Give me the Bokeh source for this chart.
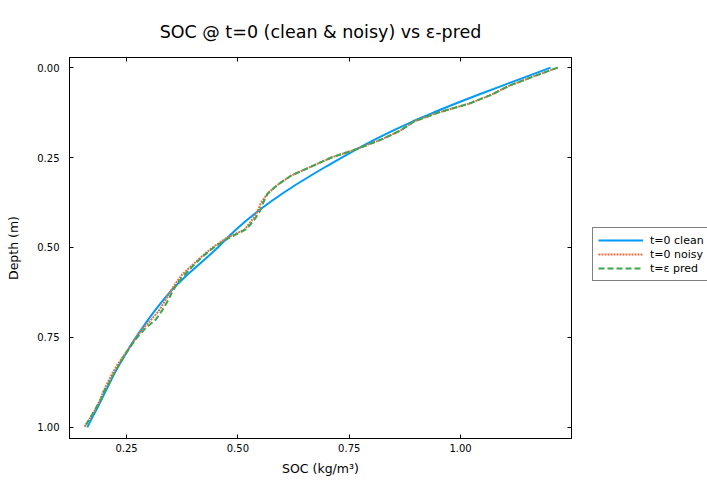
from bokeh.plotting import figure
from bokeh.models import Range1d, LinearAxis, FixedTicker, Legend, LegendItem
from bokeh.layouts import row
from bokeh.embed import file_html
from bokeh.resources import INLINE

depth = [0.000, 0.025, 0.050, 0.075, 0.100, 0.125, 0.150, 0.175, 0.200, 0.225,
         0.250, 0.275, 0.300, 0.325, 0.350, 0.375, 0.400, 0.425, 0.450, 0.475,
         0.500, 0.525, 0.550, 0.575, 0.600, 0.625, 0.650, 0.675, 0.700, 0.725,
         0.750, 0.775, 0.800, 0.825, 0.850, 0.875, 0.900, 0.925, 0.950, 0.975, 1.000]

soc_clean = [1.202, 1.148, 1.094, 1.041, 0.989, 0.939, 0.892, 0.848, 0.807, 0.769,
             0.733, 0.698, 0.664, 0.631, 0.600, 0.571, 0.544, 0.519, 0.496, 0.475,
             0.455, 0.433, 0.410, 0.387, 0.366, 0.347, 0.330, 0.314, 0.299, 0.285,
             0.271, 0.258, 0.246, 0.234, 0.223, 0.213, 0.203, 0.193, 0.183, 0.172, 0.162]

soc_noisy = [1.218, 1.163, 1.110, 1.070, 1.020, 0.950, 0.895, 0.865, 0.822, 0.770,
             0.710, 0.665, 0.620, 0.590, 0.567, 0.552, 0.544, 0.531, 0.515, 0.473,
             0.443, 0.419, 0.397, 0.375, 0.360, 0.347, 0.336, 0.323, 0.306, 0.287,
             0.272, 0.258, 0.244, 0.230, 0.218, 0.208, 0.198, 0.190, 0.180, 0.168, 0.155]

soc_pred = [1.218, 1.163, 1.110, 1.070, 1.020, 0.950, 0.895, 0.865, 0.822, 0.770,
            0.710, 0.665, 0.620, 0.590, 0.567, 0.557, 0.549, 0.536, 0.518, 0.478,
            0.446, 0.421, 0.400, 0.381, 0.364, 0.352, 0.342, 0.330, 0.316, 0.292,
            0.274, 0.259, 0.246, 0.234, 0.222, 0.212, 0.200, 0.192, 0.180, 0.168, 0.155]

series_labels = ["t=0 clean", "t=0 noisy", "t=ε pred"]

x_ticks = [0.25, 0.50, 0.75, 1.00]
x_tick_labels = ["0.25", "0.50", "0.75", "1.00"]
y_ticks = [0.00, 0.25, 0.50, 0.75, 1.00]
y_tick_labels = ["0.00", "0.25", "0.50", "0.75", "1.00"]

FONT = "DejaVu Sans"
STYLES = [dict(line_color="#009AFA", line_width=2),
          dict(line_color="#E36F47", line_width=2, line_dash="2 1"),
          dict(line_color="#3EA44E", line_width=2, line_dash="6 3")]
SERIES = [soc_clean, soc_noisy, soc_pred]

p = figure(width=585, height=482, output_backend="svg", toolbar_location=None,
           x_range=Range1d(0.122, 1.249), y_range=Range1d(1.031, -0.028),
           min_border_left=69, min_border_right=14, min_border_top=57, min_border_bottom=44)

p.title.text = "SOC @ t=0 (clean & noisy) vs ε-pred"
p.title.align = "center"
p.title.vertical_align = "top"
p.title.text_font = FONT
p.title.text_font_size = "17.5px"
p.title.text_font_style = "normal"
p.title.text_color = "black"
p.title.standoff = 28

p.xgrid.visible = False
p.ygrid.visible = False
p.outline_line_color = "black"
p.outline_line_alpha = 1.0
p.background_fill_color = "white"
p.border_fill_color = "white"

def style_axis(ax, ticks, labels, show_labels=True):
    ax.ticker = FixedTicker(ticks=ticks)
    ax.major_label_overrides = {t: l for t, l in zip(ticks, labels)} if show_labels else {t: "" for t in ticks}
    ax.minor_tick_line_color = None
    ax.major_tick_in = 4
    ax.major_tick_out = 0
    ax.major_tick_line_color = "black"
    ax.axis_line_color = "black"
    ax.major_label_text_font = FONT
    ax.major_label_text_font_size = "10px"
    ax.major_label_text_color = "black"
    ax.axis_label_text_font = FONT
    ax.axis_label_text_font_size = "12.5px"
    ax.axis_label_text_font_style = "normal"
    ax.axis_label_text_color = "black"

style_axis(p.xaxis[0], x_ticks, x_tick_labels)
style_axis(p.yaxis[0], y_ticks, y_tick_labels)
p.xaxis[0].axis_label = "SOC (kg/m³)"
p.xaxis[0].major_label_standoff = 5
p.xaxis[0].axis_label_standoff = 6
p.yaxis[0].axis_label = "Depth (m)"
p.yaxis[0].major_label_standoff = 10
p.yaxis[0].axis_label_standoff = 13

top_ax = LinearAxis()
style_axis(top_ax, x_ticks, x_tick_labels, show_labels=False)
top_ax.major_label_text_font_size = "0px"
top_ax.major_label_standoff = 0
p.add_layout(top_ax, "above")
right_ax = LinearAxis()
style_axis(right_ax, y_ticks, y_tick_labels, show_labels=False)
right_ax.major_label_text_font_size = "0px"
right_ax.major_label_standoff = 0
p.add_layout(right_ax, "right")

for xs, st in zip(SERIES, STYLES):
    p.line(xs, depth, **st)

# legend panel: separate figure to the right (outside legend); its lines
# use the same data but lie outside this panel's visible range
q = figure(width=122, height=482, output_backend="svg", toolbar_location=None,
           x_range=Range1d(5, 6), y_range=Range1d(5, 6),
           min_border_left=0, min_border_right=0, min_border_top=0, min_border_bottom=0)
q.axis.visible = False
q.grid.visible = False
q.outline_line_color = None
q.background_fill_color = "white"
q.border_fill_color = "white"
items = []
for lab, xs, st in zip(series_labels, SERIES, STYLES):
    r = q.line(xs, depth, **st)
    items.append(LegendItem(label=lab, renderers=[r]))

legend = Legend(items=items, location=(7, 157))
legend.label_text_font = FONT
legend.label_text_font_size = "11px"
legend.label_text_color = "black"
legend.border_line_color = "black"
legend.border_line_width = 1
legend.background_fill_color = "white"
legend.background_fill_alpha = 1.0
legend.glyph_width = 45
legend.glyph_height = 14
legend.label_height = 14
legend.spacing = 0
legend.padding = 5
legend.margin = 0
legend.label_standoff = 7
q.add_layout(legend, "center")

layout = row(p, q, spacing=0)
open("out.html", "w").write(file_html(layout, INLINE))
